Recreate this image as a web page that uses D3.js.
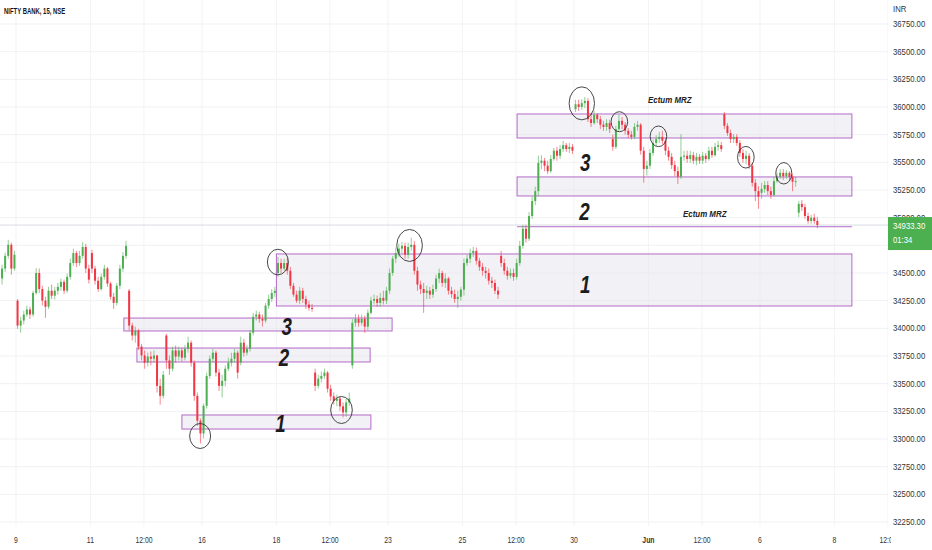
<!DOCTYPE html>
<html>
<head>
<meta charset="utf-8">
<title>NIFTY BANK, 15, NSE</title>
<script src="https://d3js.org/d3.v7.min.js"></script>
<style>
  body { margin: 0; background: #fff; }
  svg { display: block; font-family: "Liberation Sans", Arial, sans-serif; }
</style>
</head>
<body>
<script>
// candles, thinned to 12 per session: [open, high, low, close]
const may06 = [ // only the tail of the session is on screen
  [34450, 34575, 34395, 34540], [34540, 34685, 34510, 34655], [34655, 34800, 34630, 34755],
  [34755, 34775, 34485, 34540], [34540, 34700, 34520, 34665]
];
const may09 = [
  [34250, 34265, 33995, 34025], [34025, 34105, 33960, 34070], [34070, 34160, 34035, 34125],
  [34125, 34205, 34105, 34170], [34170, 34195, 34085, 34125], [34125, 34340, 34105, 34320],
  [34320, 34545, 34305, 34500], [34500, 34540, 34320, 34355], [34355, 34385, 34205, 34250],
  [34250, 34285, 34095, 34195], [34195, 34375, 34175, 34340], [34340, 34395, 34265, 34295]
];
const may10 = [
  [34295, 34375, 34260, 34340], [34340, 34410, 34305, 34375], [34375, 34450, 34340, 34420],
  [34420, 34440, 34310, 34340], [34340, 34495, 34320, 34465], [34465, 34630, 34440, 34590],
  [34590, 34720, 34565, 34680], [34680, 34700, 34555, 34590], [34590, 34700, 34565, 34655],
  [34655, 34780, 34630, 34735], [34735, 34765, 34500, 34540], [34540, 34575, 34405, 34440]
];
const may11 = [
  [34680, 34710, 34500, 34540], [34540, 34565, 34395, 34430], [34430, 34465, 34330, 34355],
  [34355, 34495, 34340, 34465], [34465, 34575, 34440, 34540], [34540, 34555, 34375, 34405],
  [34405, 34420, 34260, 34285], [34285, 34320, 34175, 34230], [34230, 34410, 34205, 34385],
  [34385, 34575, 34355, 34540], [34540, 34690, 34510, 34655], [34655, 34790, 34630, 34745]
];
const may12 = [
  [34340, 34355, 33980, 34025], [34025, 34050, 33890, 33935], [33935, 34015, 33870, 33980],
  [33980, 33995, 33805, 33835], [33835, 33860, 33710, 33755], [33755, 33800, 33635, 33690],
  [33690, 33780, 33655, 33745], [33745, 33790, 33665, 33725], [33725, 33800, 33690, 33755],
  [33755, 33760, 33420, 33480], [33480, 33545, 33310, 33390], [33390, 33615, 33365, 33580]
];
const may13 = [
  [33935, 33950, 33635, 33710], [33710, 33755, 33580, 33635], [33635, 33835, 33610, 33800],
  [33800, 33845, 33690, 33745], [33745, 33835, 33710, 33800], [33800, 33825, 33700, 33735],
  [33735, 33850, 33710, 33815], [33815, 33925, 33780, 33870], [33870, 33890, 33655, 33690],
  [33690, 33710, 33345, 33390], [33390, 33420, 33120, 33165], [33165, 33185, 32960, 33050]
];
const may16 = [
  [33050, 33320, 33005, 33300], [33300, 33600, 33275, 33570], [33570, 33755, 33545, 33725],
  [33725, 33815, 33690, 33780], [33780, 33800, 33565, 33600], [33600, 33635, 33435, 33480],
  [33480, 33580, 33375, 33525], [33525, 33665, 33475, 33635], [33635, 33735, 33615, 33690],
  [33690, 33780, 33655, 33725], [33725, 33815, 33690, 33780], [33780, 33800, 33545, 33600]
];
const may17 = [
  [33690, 33925, 33665, 33870], [33870, 33905, 33745, 33780], [33780, 33850, 33755, 33815],
  [33815, 33985, 33790, 33960], [33960, 34140, 33935, 34105], [34105, 34160, 34070, 34125],
  [34125, 34150, 34050, 34085], [34085, 34125, 34015, 34070], [34070, 34230, 34050, 34205],
  [34205, 34305, 34175, 34265], [34265, 34355, 34240, 34320], [34320, 34375, 34285, 34340]
];
const may18 = [
  [34500, 34645, 34465, 34590], [34590, 34630, 34500, 34540], [34540, 34630, 34520, 34590],
  [34590, 34635, 34485, 34520], [34520, 34555, 34355, 34385], [34385, 34410, 34285, 34305],
  [34305, 34340, 34230, 34250], [34250, 34375, 34220, 34340], [34340, 34365, 34230, 34265],
  [34265, 34295, 34175, 34215], [34215, 34250, 34160, 34185], [34185, 34220, 34150, 34175]
];
const may19 = [
  [33600, 33635, 33435, 33480], [33480, 33580, 33455, 33545], [33545, 33610, 33510, 33570],
  [33570, 33635, 33545, 33600], [33600, 33615, 33420, 33455], [33455, 33490, 33345, 33385],
  [33385, 33420, 33310, 33345], [33345, 33400, 33295, 33365], [33365, 33390, 33255, 33295],
  [33295, 33330, 33195, 33240], [33240, 33365, 33200, 33330], [33330, 33420, 33300, 33365]
];
const may20 = [
  [33665, 34085, 33635, 34050], [34050, 34130, 34015, 34085], [34085, 34125, 34015, 34050],
  [34050, 34125, 34025, 34085], [34085, 34115, 33960, 34015], [34015, 34170, 33985, 34140],
  [34140, 34285, 34125, 34250], [34250, 34305, 34215, 34265], [34265, 34295, 34195, 34230],
  [34230, 34320, 34195, 34275], [34275, 34340, 34215, 34250], [34250, 34375, 34220, 34340]
];
const may23 = [
  [34340, 34540, 34310, 34500], [34500, 34655, 34475, 34630], [34630, 34730, 34590, 34680],
  [34680, 34765, 34645, 34720], [34720, 34780, 34680, 34745], [34745, 34775, 34630, 34665],
  [34665, 34775, 34630, 34735], [34735, 34820, 34700, 34755], [34755, 34790, 34485, 34520],
  [34520, 34555, 34340, 34395], [34395, 34430, 34310, 34355], [34355, 34410, 34140, 34320]
];
const may24 = [
  [34320, 34385, 34265, 34340], [34340, 34375, 34265, 34305], [34305, 34395, 34275, 34355],
  [34355, 34485, 34330, 34450], [34450, 34540, 34410, 34500], [34500, 34520, 34375, 34410],
  [34410, 34495, 34365, 34450], [34450, 34465, 34305, 34340], [34340, 34375, 34275, 34310],
  [34310, 34350, 34230, 34265], [34265, 34340, 34185, 34285], [34285, 34375, 34250, 34350]
];
const may25 = [
  [34350, 34630, 34295, 34590], [34590, 34665, 34565, 34630], [34630, 34720, 34590, 34680],
  [34680, 34735, 34645, 34700], [34700, 34730, 34575, 34610], [34610, 34635, 34520, 34555],
  [34555, 34590, 34475, 34520], [34520, 34555, 34450, 34500], [34500, 34540, 34395, 34430],
  [34430, 34465, 34365, 34410], [34410, 34440, 34310, 34340], [34340, 34375, 34265, 34305]
];
const may26 = [
  [34655, 34700, 34555, 34590], [34590, 34630, 34485, 34520], [34520, 34555, 34440, 34475],
  [34475, 34540, 34450, 34500], [34500, 34540, 34430, 34465], [34465, 34630, 34440, 34590],
  [34590, 34790, 34565, 34745], [34745, 34935, 34720, 34900], [34900, 34935, 34775, 34810],
  [34810, 35050, 34790, 35015], [35015, 35190, 34990, 35150], [35150, 35280, 35115, 35240]
];
const may27 = [
  [35240, 35560, 35195, 35495], [35495, 35565, 35440, 35515], [35515, 35540, 35420, 35470],
  [35470, 35515, 35395, 35420], [35420, 35565, 35405, 35530], [35530, 35630, 35515, 35605],
  [35605, 35640, 35515, 35560], [35560, 35655, 35530, 35620], [35620, 35695, 35595, 35655],
  [35655, 35675, 35595, 35620], [35620, 35675, 35585, 35640], [35640, 35665, 35575, 35605]
];
const may30 = [
  [35980, 36065, 35955, 36025], [36025, 36065, 35965, 36000], [36000, 36070, 35975, 36035],
  [36035, 36090, 35990, 36055], [36055, 36080, 35865, 35890], [35890, 35945, 35820, 35855],
  [35855, 35965, 35840, 35930], [35930, 35945, 35855, 35890], [35890, 35920, 35800, 35840],
  [35840, 35875, 35785, 35820], [35820, 35890, 35785, 35855], [35855, 35885, 35765, 35800]
];
const may31 = [
  [35710, 35750, 35605, 35640], [35640, 35830, 35620, 35800], [35800, 35930, 35785, 35875],
  [35875, 35910, 35800, 35840], [35840, 35865, 35750, 35785], [35785, 35810, 35720, 35750],
  [35750, 35785, 35705, 35730], [35730, 35855, 35710, 35820], [35820, 35875, 35785, 35840],
  [35840, 35855, 35570, 35605], [35605, 35640, 35315, 35440], [35440, 35515, 35380, 35470]
];
const jun01 = [
  [35470, 35620, 35440, 35585], [35585, 35710, 35560, 35675], [35675, 35745, 35650, 35710],
  [35710, 35775, 35675, 35730], [35730, 35785, 35665, 35695], [35695, 35720, 35565, 35605],
  [35605, 35640, 35515, 35550], [35550, 35585, 35440, 35475], [35475, 35515, 35375, 35420],
  [35420, 35460, 35305, 35370], [35370, 35755, 35350, 35550], [35550, 35605, 35515, 35560]
];
const jun02 = [
  [35560, 35605, 35495, 35530], [35530, 35605, 35495, 35565], [35565, 35595, 35485, 35515],
  [35515, 35585, 35475, 35550], [35550, 35575, 35485, 35515], [35515, 35595, 35485, 35560],
  [35560, 35585, 35495, 35530], [35530, 35640, 35515, 35605], [35605, 35640, 35540, 35565],
  [35565, 35675, 35550, 35640], [35640, 35695, 35605, 35655], [35655, 35685, 35595, 35620]
];
const jun03 = [
  [35935, 35955, 35800, 35830], [35830, 35855, 35740, 35765], [35765, 35795, 35675, 35710],
  [35710, 35755, 35675, 35730], [35730, 35755, 35650, 35675], [35675, 35700, 35550, 35585],
  [35585, 35620, 35495, 35530], [35530, 35605, 35485, 35560], [35560, 35585, 35440, 35470],
  [35470, 35495, 35280, 35315], [35315, 35350, 35150, 35240], [35240, 35285, 35080, 35190]
];
const jun06 = [
  [35225, 35315, 35170, 35260], [35260, 35330, 35225, 35295], [35295, 35330, 35205, 35240],
  [35240, 35280, 35170, 35205], [35205, 35370, 35190, 35330], [35330, 35405, 35315, 35370],
  [35370, 35440, 35350, 35405], [35405, 35440, 35340, 35375], [35375, 35430, 35350, 35405],
  [35405, 35420, 35330, 35370], [35370, 35395, 35240, 35325], [35325, 35370, 35280, 35330]
];
const jun07 = [ // session still running
  [35045, 35150, 35005, 35125], [35125, 35160, 35060, 35095], [35095, 35125, 34990, 35015],
  [35015, 35045, 34945, 34970], [34970, 35025, 34945, 35000], [35000, 35035, 34945, 34970],
  [34970, 35005, 34905, 34933.3]
];

// [trading day index, first slot shown, candles]
const sessions = [
  [0, 7, may06], [1, 0, may09], [2, 0, may10], [3, 0, may11], [4, 0, may12], [5, 0, may13],
  [6, 0, may16], [7, 0, may17], [8, 0, may18], [9, 0, may19], [10, 0, may20], [11, 0, may23],
  [12, 0, may24], [13, 0, may25], [14, 0, may26], [15, 0, may27], [16, 0, may30], [17, 0, may31],
  [18, 0, jun01], [19, 0, jun02], [20, 0, jun03], [21, 0, jun06], [22, 0, jun07]
];

const timeTicks = [1, 3, 4.44, 6, 8, 9.44, 11, 13, 14.44, 16, 18, 19.44, 21, 23, 24.44];
const timeLabels = ["9", "11", "12:00", "16", "18", "12:00", "23", "25", "12:00", "30", "Jun", "12:00", "6", "8", "12:00"];
const priceTicks = [32250, 32500, 32750, 33000, 33250, 33500, 33750, 34000, 34250, 34500,
  34750, 35000, 35250, 35500, 35750, 36000, 36250, 36500, 36750];

const lastPrice = 34933.3;
const countdown = "01:34";

// drawn zones: [from day, to day, top price, bottom price]
const zones = [
  [14.47, 23.47, 35937, 35720],
  [14.47, 23.47, 35368, 35196],
  [8.0, 23.47, 34672, 34202],
  [3.9, 11.11, 34093, 33976],
  [4.25, 10.52, 33822, 33696],
  [5.46, 10.54, 33217, 33090]
];
const mrzLine = [14.47, 23.47, 34918];
const zoneNumbers = [
  [16.3, 35499, "3"], [16.28, 35056, "2"], [16.3, 34392, "1"],
  [8.28, 34017, "3"], [8.2, 33737, "2"], [8.11, 33140, "1"]
];
const notes = [[17.99, 36063, "Ectum MRZ"], [18.93, 35033, "Ectum MRZ"]];
// circled pivots: [day, price]
const rings = [
  [5.95, 33027], [8.04, 34599], [9.75, 33262], [11.58, 34749], [16.21, 36033],
  [17.22, 35867], [18.27, 35735], [20.62, 35546], [21.64, 35401]
];
const ringSize = [[10.5, 12.5], [10.5, 12.8], [10.8, 13.5], [12.8, 16], [12.7, 16.5],
  [8.3, 10], [8.3, 10.3], [8.3, 10.8], [8, 10.7]];

const width = 932;
const height = 550;
const plotRight = 888;
const plotBottom = 526;
const slots = 12;
const up = "#4caf50";
const down = "#f23645";

const x = d3.scaleLinear().domain([1, 23]).range([16, 834.4]);
const y = d3.scaleLinear().domain([32250, 36750]).range([522, 24]);

const svg = d3.select("body").append("svg")
  .attr("width", width)
  .attr("height", height);

const defs = svg.append("defs");
defs.append("clipPath").attr("id", "plot")
  .append("rect").attr("width", plotRight).attr("height", plotBottom);
defs.append("clipPath").attr("id", "xclip")
  .append("rect").attr("x", 0).attr("y", -5).attr("width", plotRight + 3).attr("height", 30);

// grid
const grid = svg.append("g").attr("clip-path", "url(#plot)");
grid.selectAll(".hg").data(priceTicks).join("line")
  .attr("x1", 0).attr("x2", plotRight)
  .attr("y1", d => y(d)).attr("y2", d => y(d))
  .attr("stroke", "#f0f1f4");
grid.selectAll(".vg").data(timeTicks).join("line")
  .attr("y1", 0).attr("y2", plotBottom)
  .attr("x1", d => x(d)).attr("x2", d => x(d))
  .attr("stroke", "#f2f3f5");

const plot = svg.append("g").attr("clip-path", "url(#plot)");

// zones
plot.selectAll(".zone").data(zones).join("rect")
  .attr("x", d => x(d[0]))
  .attr("y", d => y(d[2]))
  .attr("width", d => x(d[1]) - x(d[0]))
  .attr("height", d => y(d[3]) - y(d[2]))
  .attr("fill", "#e6e4ec")
  .attr("fill-opacity", 0.5)
  .attr("stroke", "#b46ac8")
  .attr("stroke-width", 1);

plot.append("line")
  .attr("x1", x(mrzLine[0])).attr("x2", x(mrzLine[1]))
  .attr("y1", y(mrzLine[2])).attr("y2", y(mrzLine[2]))
  .attr("stroke", "#b46ac8");

// last price line
plot.append("line")
  .attr("x1", 0).attr("x2", plotRight)
  .attr("y1", y(lastPrice)).attr("y2", y(lastPrice))
  .attr("stroke", "#cfd2d8").attr("stroke-width", 0.8);

// candles
const candles = sessions.flatMap(([day, first, list]) =>
  list.map((c, i) => ({ t: day + (first + i + 0.5) / slots, o: c[0], h: c[1], l: c[2], c: c[3] })));

plot.selectAll(".wick").data(candles).join("line")
  .attr("x1", d => x(d.t)).attr("x2", d => x(d.t))
  .attr("y1", d => y(d.h)).attr("y2", d => y(d.l))
  .attr("stroke", d => d.c >= d.o ? up : down)
  .attr("stroke-opacity", 0.6)
  .attr("stroke-width", 1);

plot.selectAll(".body").data(candles).join("rect")
  .attr("x", d => x(d.t) - 1)
  .attr("width", 2)
  .attr("y", d => y(Math.max(d.o, d.c)))
  .attr("height", d => Math.max(1, Math.abs(y(d.o) - y(d.c))))
  .attr("fill", d => d.c >= d.o ? up : down);

// rings
plot.selectAll(".ring").data(rings).join("ellipse")
  .attr("cx", d => x(d[0]))
  .attr("cy", d => y(d[1]))
  .attr("rx", (d, i) => ringSize[i][0])
  .attr("ry", (d, i) => ringSize[i][1])
  .attr("fill", "none")
  .attr("stroke", "#333")
  .attr("stroke-width", 0.9);

// zone numbers
plot.selectAll(".num").data(zoneNumbers).join("text")
  .attr("transform", d => `translate(${x(d[0])},${y(d[1])}) scale(0.78,1)`)
  .attr("text-anchor", "middle")
  .attr("dy", "0.35em")
  .style("font-size", "24px")
  .style("font-weight", "bold")
  .style("font-style", "italic")
  .attr("fill", "#1c1c1c")
  .text(d => d[2]);

plot.selectAll(".note").data(notes).join("text")
  .attr("transform", d => `translate(${x(d[0])},${y(d[1])}) scale(0.88,1)`)
  .attr("dy", "0.35em")
  .style("font-size", "9px")
  .style("font-style", "italic")
  .style("font-weight", "600")
  .attr("fill", "#222")
  .text(d => d[2]);

// time axis
const xAxis = d3.axisBottom(x)
  .tickValues(timeTicks)
  .tickFormat((d, i) => timeLabels[i])
  .tickSize(0)
  .tickPadding(10);
const xg = svg.append("g")
  .attr("transform", `translate(0,${plotBottom})`)
  .attr("clip-path", "url(#xclip)")
  .call(xAxis);
xg.select(".domain").remove();
xg.selectAll(".tick").attr("transform", d => `translate(${x(d)},0) scale(0.72,1)`);
xg.selectAll("text")
  .style("font-size", "9.5px")
  .style("font-family", "'Liberation Sans', Arial, sans-serif")
  .style("font-weight", (d, i) => timeLabels[i] === "Jun" ? "bold" : "normal")
  .attr("fill", "#333");

// price axis
const yAxis = d3.axisRight(y)
  .tickValues(priceTicks)
  .tickFormat(d3.format(".2f"))
  .tickSize(0)
  .tickPadding(0);
const yg = svg.append("g")
  .attr("transform", `translate(893,0)`)
  .call(yAxis);
yg.select(".domain").remove();
yg.selectAll(".tick").attr("transform", d => `translate(0,${y(d)}) scale(0.86,1)`);
yg.selectAll("text")
  .style("font-size", "9px")
  .style("font-family", "'Liberation Sans', Arial, sans-serif")
  .attr("fill", "#333");

svg.append("text")
  .attr("transform", "translate(893,12) scale(0.86,1)")
  .style("font-size", "9px")
  .attr("fill", "#333")
  .text("INR");

// live price tag
const tag = svg.append("g");
tag.append("rect")
  .attr("x", plotRight).attr("y", y(lastPrice) - 8)
  .attr("width", width - plotRight).attr("height", 33)
  .attr("fill", "#4caf50");
tag.append("text")
  .attr("transform", `translate(893,${y(lastPrice) + 3.5}) scale(0.86,1)`)
  .style("font-size", "9px").attr("fill", "#fff")
  .text(d3.format(".2f")(lastPrice));
tag.append("text")
  .attr("transform", `translate(893,${y(lastPrice) + 17.5}) scale(0.86,1)`)
  .style("font-size", "9px").attr("fill", "#fff")
  .text(countdown);

// title
svg.append("text")
  .attr("transform", "translate(4,14) scale(0.66,1)")
  .style("font-size", "9px")
  .style("font-weight", "600")
  .attr("fill", "#131722")
  .text("NIFTY BANK, 15, NSE");
</script>
</body>
</html>
